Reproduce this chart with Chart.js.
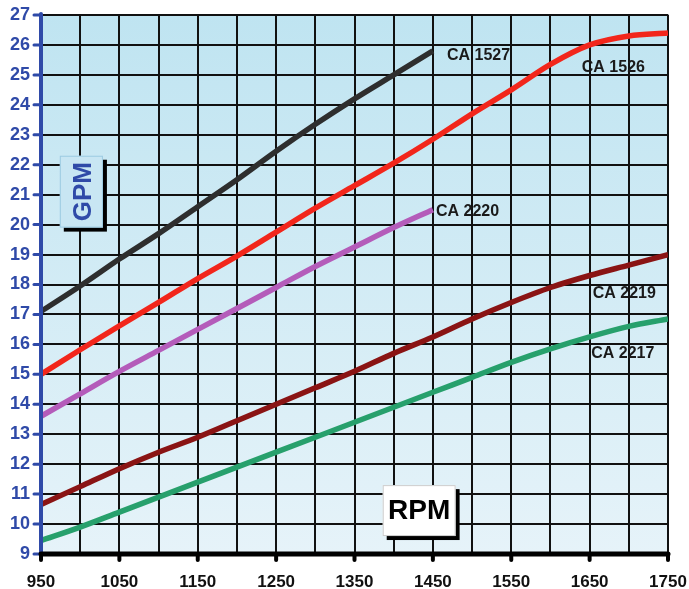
<!DOCTYPE html>
<html>
<head>
<meta charset="utf-8">
<script src="https://cdn.jsdelivr.net/npm/chart.js@4/dist/chart.umd.min.js"></script>
<style>
  html, body { margin: 0; padding: 0; background: #ffffff; }
  #wrap { width: 689px; height: 589px; position: relative; }
</style>
</head>
<body>
<div id="wrap"><canvas id="c" width="689" height="589"></canvas></div>
<script>
// RPM sample points (every 50)
const rpm = [950, 1000, 1050, 1100, 1150, 1200, 1250, 1300, 1350, 1400, 1450, 1500, 1550, 1600, 1650, 1700, 1750];
// GPM series
const ca1527 = [17.1, 17.95, 18.85, 19.7, 20.6, 21.5, 22.45, 23.35, 24.2, 25.0, 25.8];
const ca1526 = [15.0, 15.82, 16.62, 17.4, 18.2, 18.95, 19.75, 20.55, 21.3, 22.05, 22.85, 23.7, 24.5, 25.35, 26.0, 26.3, 26.4];
const ca2220 = [13.6, 14.35, 15.1, 15.8, 16.5, 17.2, 17.9, 18.6, 19.25, 19.9, 20.5];
const ca2219 = [10.65, 11.25, 11.85, 12.4, 12.9, 13.45, 14.0, 14.55, 15.1, 15.7, 16.25, 16.85, 17.4, 17.9, 18.3, 18.65, 19.0];
const ca2217 = [9.45, 9.9, 10.4, 10.9, 11.4, 11.9, 12.4, 12.9, 13.4, 13.9, 14.4, 14.9, 15.4, 15.85, 16.25, 16.6, 16.85];
const seriesNames = ['CA 1527', 'CA 1526', 'CA 2220', 'CA 2219', 'CA 2217'];
const seriesColors = ['#2e2e2e', '#f2261b', '#b45cba', '#8a1414', '#27a06c'];
// label anchor positions in data units [rpm, gpm]
const labelAnchors = [[1468, 25.66], [1640, 25.23], [1454, 20.45], [1654, 17.7], [1652, 15.7]];
const xTickLabels = [950, 1050, 1150, 1250, 1350, 1450, 1550, 1650, 1750];
const yMin = 9, yMax = 27;
const axisTitleX = 'RPM';
const axisTitleY = 'GPM';

const allSeries = [ca1527, ca1526, ca2220, ca2219, ca2217];
const datasets = allSeries.map((s, i) => ({
  label: seriesNames[i],
  data: s.map((v, j) => ({ x: rpm[j], y: v })),
  borderColor: seriesColors[i],
  borderWidth: 5.5,
  pointRadius: 0,
  tension: 0.35,
  cubicInterpolationMode: 'monotone',
  fill: false,
  borderCapStyle: 'butt'
}));

const bgPlugin = {
  id: 'bg',
  beforeDraw(chart) {
    const { ctx, chartArea: a } = chart;
    const g = ctx.createLinearGradient(0, a.top, 0, a.bottom);
    g.addColorStop(0, '#bfe4f1');
    g.addColorStop(1, '#e6f3f9');
    ctx.save();
    ctx.fillStyle = g;
    ctx.fillRect(a.left, a.top, a.right - a.left, a.bottom - a.top);
    ctx.strokeStyle = '#7a7a7a';
    ctx.lineWidth = 1.5;
    ctx.beginPath();
    ctx.moveTo(a.left, a.top);
    ctx.lineTo(a.right, a.top);
    ctx.lineTo(a.right, a.bottom);
    ctx.stroke();
    ctx.restore();
  }
};

const decoPlugin = {
  id: 'deco',
  afterDraw(chart) {
    const { ctx, chartArea: a } = chart;
    const xs = chart.scales.x, ys = chart.scales.y;
    ctx.save();
    // axis lines
    ctx.lineCap = 'round';
    ctx.strokeStyle = '#2f4aa8';
    ctx.lineWidth = 4;
    ctx.beginPath();
    ctx.moveTo(a.left, a.top - 1);
    ctx.lineTo(a.left, a.bottom);
    ctx.stroke();
    ctx.lineWidth = 3;
    for (let v = yMin; v <= yMax; v++) {
      const y = ys.getPixelForValue(v);
      ctx.beginPath();
      ctx.moveTo(a.left - 7, y);
      ctx.lineTo(a.left, y);
      ctx.stroke();
    }
    ctx.strokeStyle = '#000000';
    ctx.lineWidth = 5;
    ctx.beginPath();
    ctx.moveTo(a.left, a.bottom);
    ctx.lineTo(a.right, a.bottom);
    ctx.stroke();
    ctx.lineWidth = 4;
    xTickLabels.forEach(v => {
      const x = xs.getPixelForValue(v);
      ctx.beginPath();
      ctx.moveTo(x, a.bottom);
      ctx.lineTo(x, a.bottom + 6);
      ctx.stroke();
    });

    // series labels
    ctx.font = 'bold 16px "Liberation Sans", Arial, sans-serif';
    ctx.fillStyle = '#1a1a1a';
    ctx.textBaseline = 'middle';
    ctx.textAlign = 'left';
    seriesNames.forEach((n, i) => {
      ctx.fillText(n, xs.getPixelForValue(labelAnchors[i][0]), ys.getPixelForValue(labelAnchors[i][1]));
    });

    // GPM box
    const gx0 = xs.getPixelForValue(974), gx1 = xs.getPixelForValue(1029);
    const gy0 = ys.getPixelForValue(22.3), gy1 = ys.getPixelForValue(19.9);
    ctx.fillStyle = '#000';
    ctx.fillRect(gx0 + 4, gy0 + 4, gx1 - gx0, gy1 - gy0);
    ctx.fillStyle = '#c8e6f3';
    ctx.fillRect(gx0, gy0, gx1 - gx0, gy1 - gy0);
    ctx.strokeStyle = '#9ccbe2';
    ctx.lineWidth = 1;
    ctx.strokeRect(gx0 + 0.5, gy0 + 0.5, gx1 - gx0 - 1, gy1 - gy0 - 1);
    ctx.save();
    ctx.translate((gx0 + gx1) / 2 + 1, (gy0 + gy1) / 2);
    ctx.rotate(-Math.PI / 2);
    ctx.fillStyle = '#2f4aa8';
    ctx.font = 'bold 26px "Liberation Sans", Arial, sans-serif';
    ctx.textAlign = 'center';
    ctx.textBaseline = 'middle';
    ctx.fillText(axisTitleY, 0, 1);
    ctx.restore();

    // RPM box
    const rx0 = xs.getPixelForValue(1386), rx1 = xs.getPixelForValue(1479);
    const ry0 = ys.getPixelForValue(11.3), ry1 = ys.getPixelForValue(9.6);
    ctx.fillStyle = '#000';
    ctx.fillRect(rx0 + 4, ry0 + 4, rx1 - rx0, ry1 - ry0);
    ctx.fillStyle = '#ffffff';
    ctx.fillRect(rx0, ry0, rx1 - rx0, ry1 - ry0);
    ctx.strokeStyle = '#cccccc';
    ctx.strokeRect(rx0 + 0.5, ry0 + 0.5, rx1 - rx0 - 1, ry1 - ry0 - 1);
    ctx.fillStyle = '#000';
    ctx.font = 'bold 28px "Liberation Sans", Arial, sans-serif';
    ctx.textAlign = 'center';
    ctx.textBaseline = 'middle';
    ctx.fillText(axisTitleX, (rx0 + rx1) / 2, (ry0 + ry1) / 2 + 1);
    ctx.restore();
  }
};

new Chart(document.getElementById('c'), {
  type: 'line',
  data: { datasets },
  options: {
    responsive: false,
    animation: false,
    devicePixelRatio: 1,
    layout: { padding: { top: 15, right: 21, left: 0, bottom: 0 } },
    plugins: { legend: { display: false }, tooltip: { enabled: false } },
    scales: {
      x: {
        type: 'linear',
        min: 950, max: 1750,
        afterFit(s) { s.height = 35; s.paddingLeft = 0; s.paddingRight = 0; },
        afterBuildTicks(s) {
          const t = [];
          for (let v = 950; v <= 1750; v += 50) t.push({ value: v });
          s.ticks = t;
        },
        ticks: {
          autoSkip: false,
          maxRotation: 0,
          padding: 18,
          color: '#111',
          font: { family: '"Liberation Sans", Arial, sans-serif', size: 17, weight: 'bold' },
          callback: v => xTickLabels.includes(v) ? String(v) : ''
        },
        grid: { color: '#111', lineWidth: 2, drawTicks: false },
        border: { display: false }
      },
      y: {
        min: yMin, max: yMax,
        afterFit(s) { s.width = 41; s.paddingTop = 0; s.paddingBottom = 0; },
        ticks: {
          stepSize: 1,
          padding: 11,
          color: '#2f4aa8',
          font: { family: '"Liberation Sans", Arial, sans-serif', size: 18, weight: 'bold' }
        },
        grid: { color: '#111', lineWidth: 2, drawTicks: false },
        border: { display: false }
      }
    }
  },
  plugins: [bgPlugin, decoPlugin]
});
</script>
</body>
</html>
